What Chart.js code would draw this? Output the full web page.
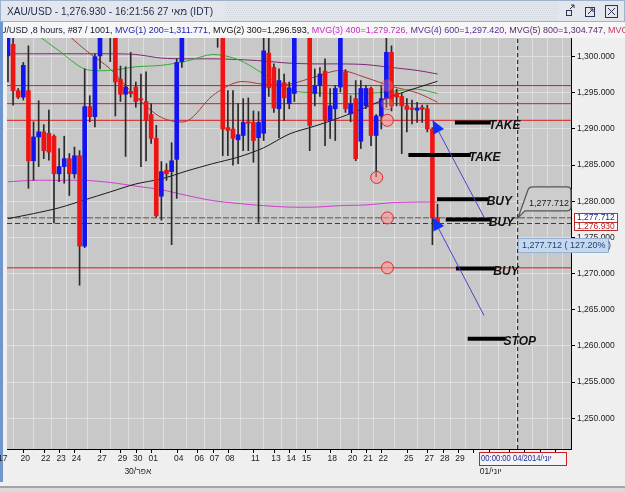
<!DOCTYPE html>
<html>
<head>
<meta charset="utf-8">
<script src="https://cdn.jsdelivr.net/npm/chart.js@4.4.0/dist/chart.umd.min.js"></script>
<style>
  html, body { margin: 0; padding: 0; background: #efefef; overflow: hidden; }
</style>
</head>
<body>
<canvas id="myChart" width="625" height="492"></canvas>
<script>
// XAU/USD 8 hour bars, index = bar number on screen
const barOpen = [1300.1,1301.7,1295.3,1294.4,1295.3,1285.6,1288.9,1289.6,1289.4,1289.0,
  1283.8,1284.8,1285.9,1283.8,1286.3,1273.8,1293.1,1291.7,1300.1,1303.5,
  1305.0,1304.0,1296.9,1294.8,1295.2,1295.8,1294.2,1293.8,1292.0,1288.7,
  1280.7,1284.3,1284.1,1285.8,1299.3,1303.5,1306.0,1308.5,1307.0,1309.0,
  1306.5,1305.5,1304.5,1290.2,1290.0,1288.5,1289.1,1291.0,1290.9,1288.8,
  1289.4,1300.5,1298.5,1292.8,1296.4,1293.5,1294.9,1303.5,1305.5,1304.0,
  1294.9,1296.0,1298.0,1291.2,1292.8,1295.8,1297.9,1292.1,1294.2,1288.3,
  1293.2,1295.6,1289.1,1291.8,1294.2,1300.6,1295.0,1294.5,1293.2,1292.9,
  1292.6,1293.0,1292.8,1290.0,1277.7];
const barClose = [1303.0,1295.3,1294.4,1298.8,1285.6,1288.9,1289.6,1287.0,1286.8,1283.8,
  1284.8,1285.9,1283.8,1286.3,1273.8,1293.1,1291.7,1300.0,1303.5,1305.0,
  1303.8,1296.5,1294.8,1295.8,1294.9,1293.8,1294.0,1291.2,1288.7,1278.0,
  1284.1,1283.8,1285.6,1299.2,1303.5,1306.0,1308.5,1307.0,1309.0,1306.5,
  1305.5,1304.5,1290.0,1289.8,1288.7,1289.2,1290.9,1290.8,1288.4,1290.9,
  1300.8,1295.7,1292.9,1296.7,1294.3,1295.7,1303.5,1305.5,1304.0,1290.5,
  1296.0,1297.6,1291.2,1293.2,1295.6,1303.0,1292.8,1293.5,1285.9,1295.6,
  1295.6,1289.1,1291.8,1294.2,1300.6,1293.2,1294.4,1293.2,1292.7,1292.7,
  1292.9,1292.7,1290.0,1277.7,1276.93];
const barHigh = [1304.0,1303.0,1295.6,1299.2,1301.5,1291.0,1293.9,1290.6,1292.6,1289.2,
  1287.3,1289.0,1286.6,1287.5,1287.0,1298.3,1294.6,1300.4,1305.0,1306.5,
  1306.0,1305.0,1298.7,1298.6,1300.6,1296.5,1297.6,1297.9,1293.5,1290.5,
  1285.5,1285.2,1288.1,1299.7,1305.0,1307.0,1309.5,1310.0,1310.5,1309.5,
  1308.0,1307.0,1305.5,1295.3,1295.3,1293.5,1294.2,1294.3,1292.5,1292.4,
  1303.0,1303.0,1299.0,1298.3,1297.6,1296.5,1305.0,1306.5,1307.0,1305.0,
  1298.3,1298.5,1299.7,1295.6,1296.0,1305.0,1298.2,1294.6,1296.7,1296.7,
  1296.0,1295.8,1292.0,1296.0,1304.0,1301.5,1295.5,1294.9,1294.2,1294.0,
  1293.7,1293.3,1293.3,1290.2,1279.6];
const barLow = [1296.5,1293.3,1294.2,1294.0,1281.8,1282.9,1284.8,1285.9,1285.7,1277.0,
  1282.7,1282.5,1280.8,1283.2,1268.4,1273.6,1291.0,1290.3,1298.3,1302.9,
  1299.3,1291.8,1293.8,1286.2,1294.4,1293.0,1284.8,1285.6,1288.0,1277.8,
  1277.4,1282.9,1274.0,1280.4,1298.5,1303.0,1305.0,1305.5,1306.0,1304.5,
  1303.5,1301.3,1286.3,1286.3,1285.0,1285.2,1287.0,1287.0,1285.4,1277.1,
  1288.4,1294.5,1292.3,1288.8,1291.2,1292.8,1293.8,1303.0,1303.0,1287.0,
  1293.2,1294.5,1287.7,1288.7,1288.4,1295.1,1292.3,1291.0,1285.6,1287.3,
  1292.8,1287.7,1283.4,1290.0,1293.0,1292.5,1293.2,1286.6,1289.6,1290.7,
  1290.9,1290.9,1289.6,1274.0,1276.5];

// moving averages, read every 5 bars
const maBars   = [0,5,10,15,20,25,30,35,40,45,50,55,60,65,70,75,80,84];
const maBlack  = [1277.6,1278.3,1279.1,1280.2,1281.3,1282.4,1283.1,1284.2,1285.2,1286.1,1287.4,1289.3,1290.4,1291.6,1293.0,1294.5,1295.7,1296.6];
const maGreen  = [1306.0,1303.4,1300.8,1298.3,1298.1,1298.6,1298.8,1299.4,1300.3,1299.6,1297.6,1295.4,1295.0,1294.9,1294.9,1295.2,1295.5,1294.9];
const maPurple = [1300.4,1300.4,1300.4,1300.4,1300.4,1300.3,1299.8,1299.7,1299.7,1299.6,1299.4,1299.1,1299.0,1299.0,1298.9,1298.5,1298.1,1297.6];
const maRed    = [1312.0,1308.0,1304.2,1301.0,1298.3,1294.5,1291.6,1291.1,1294.6,1296.5,1296.2,1296.2,1297.2,1298.1,1297.1,1295.9,1295.0,1293.7];
const maPink   = [1282.7,1282.9,1282.9,1282.9,1282.6,1282.1,1281.6,1280.8,1280.1,1279.7,1279.4,1279.2,1279.2,1279.4,1279.5,1279.8,1279.9,1279.9];

// price levels
const redLevels = [1296.0, 1293.5, 1291.2, 1270.8];
const lastMark = 1277.712;
const lastPrice = 1276.93;
const crossBar = 99.67;

// trade marks
const tradeText  = ['TAKE', 'TAKE', 'BUY', 'BUY', 'BUY', 'STOP'];
const tradeLevel = [1290.9, 1286.4, 1280.3, 1277.5, 1270.7, 1261.0];
const tradeFrom  = [87.4, 78.3, 83.9, 85.6, 87.6, 89.9];
const tradeTo    = [94.4, 90.5, 94.0, 94.4, 95.3, 97.3];

// blue arrows
const arrowFromBar = [93.1, 93.1];
const arrowFromY   = [1277.8, 1264.2];
const arrowToBar   = [83.05, 83.05];
const arrowToY     = [1291.2, 1277.8];

// circles (the first two are faint)
const circleBar = [74.2, 74.2, 74.2, 72.1, 74.2, 74.2];
const circleY   = [1296.0, 1293.5, 1291.2, 1283.3, 1277.7, 1270.8];
const circleFaint = [true, true, false, false, false, false];

// axis
const xTickPos  = [-1.4, 3, 7, 10, 13, 18, 22, 25, 28, 33, 37, 40, 43, 48, 52, 55, 58, 63, 67, 70, 73, 78, 82, 85, 88];
const xTickText = ['17','20','22','23','24','27','29','30','01','04','06','07','08','11','13','14','15','18','20','21','22','25','27','28','29'];
const futureTicks = [91, 94, 98, 101, 104, 107];
const monthPos  = [25, 94];
const monthText = ['30/אפר', '01/יוני'];
const yTicks = [1250, 1255, 1260, 1265, 1270, 1275, 1280, 1285, 1290, 1295, 1300];

const xMin = -0.19, xMax = 110.1;
const yMin = 1245.75, yMax = 1302.58;

const fmt = v => v.toLocaleString('en-US', { minimumFractionDigits: 3, maximumFractionDigits: 3 });

Chart.defaults.font.family = '"Liberation Sans", Arial, sans-serif';

const idx = barOpen.map((_, i) => i);
const datasets = [];

// arrows
for (let k = 0; k < arrowFromBar.length; k++) {
  datasets.push({
    type: 'line', order: 0, borderColor: '#4646d2', borderWidth: 1, pointRadius: 0,
    data: [{ x: arrowFromBar[k], y: arrowFromY[k] }, { x: arrowToBar[k], y: arrowToY[k] }]
  });
}
// trade segments
for (let k = 0; k < tradeText.length; k++) {
  datasets.push({
    type: 'line', order: 1, borderColor: '#000', borderWidth: 4, pointRadius: 0, borderCapStyle: 'butt',
    data: [{ x: tradeFrom[k], y: tradeLevel[k] }, { x: tradeTo[k], y: tradeLevel[k] }]
  });
}
// circles
datasets.push({
  type: 'line', order: 2, showLine: false, pointRadius: 6, pointBorderWidth: 1,
  pointBackgroundColor: circleFaint.map(f => f ? 'rgba(255,150,150,0.3)' : 'rgba(255,150,150,0.55)'),
  pointBorderColor: circleFaint.map(f => f ? 'rgba(224,40,40,0.5)' : '#e02828'),
  data: circleBar.map((b, i) => ({ x: b, y: circleY[i] }))
});
// candle bodies
datasets.push({
  type: 'bar', order: 3, grouped: false, barThickness: 4, minBarLength: 1, borderWidth: 0,
  backgroundColor: idx.map(i => barClose[i] >= barOpen[i] ? '#1414ee' : '#ee1414'),
  data: idx.map(i => ({ x: i, y: [barOpen[i], barClose[i]] }))
});
// wicks
datasets.push({
  type: 'bar', order: 4, grouped: false, barThickness: 1, borderWidth: 0,
  backgroundColor: '#2a2a2a',
  data: idx.map(i => ({ x: i, y: [barLow[i], barHigh[i]] }))
});
// moving averages
[[maBlack, '#1a1a1a'], [maGreen, '#2fae2f'], [maPurple, '#7c2a72'], [maRed, '#a83a3a'], [maPink, '#d03ed0']]
  .forEach(([vals, col]) => {
    datasets.push({
      type: 'line', order: 5, borderColor: col, borderWidth: 1, pointRadius: 0, tension: 0.3,
      data: maBars.map((b, i) => ({ x: b, y: vals[i] }))
    });
  });
// horizontal levels
redLevels.forEach(v => {
  datasets.push({
    type: 'line', order: 6, borderColor: '#e01818', borderWidth: 1, pointRadius: 0,
    data: [{ x: xMin, y: v }, { x: xMax, y: v }]
  });
});
datasets.push({
  type: 'line', order: 6, borderColor: '#6b4a40', borderWidth: 1, borderDash: [6, 2], pointRadius: 0,
  data: [{ x: xMin, y: lastMark }, { x: xMax, y: lastMark }]
});
datasets.push({
  type: 'line', order: 6, borderColor: '#2233a8', borderWidth: 1, borderDash: [5, 3], pointRadius: 0,
  data: [{ x: xMin, y: lastPrice }, { x: xMax, y: lastPrice }]
});
datasets.push({
  type: 'line', order: 6, borderColor: '#111', borderWidth: 1, borderDash: [4, 3], pointRadius: 0,
  data: [{ x: crossBar, y: yMin }, { x: crossBar, y: yMax }]
});

const extras = {
  id: 'extras',
  beforeDraw(chart) {
    const { ctx, chartArea: a } = chart;
    ctx.save();
    ctx.fillStyle = '#efefef';
    ctx.fillRect(0, 0, chart.width, chart.height);
    ctx.fillStyle = '#c8c8c8';
    ctx.fillRect(a.left, a.top, a.right - a.left, a.bottom - a.top);
    ctx.restore();
  },
  afterDatasetsDraw(chart) {
    const { ctx } = chart;
    const xs = chart.scales.x, ys = chart.scales.y;
    ctx.save();
    // arrow heads
    ctx.fillStyle = '#1030ff';
    for (let k = 0; k < arrowToBar.length; k++) {
      const x1 = xs.getPixelForValue(arrowFromBar[k]), y1 = ys.getPixelForValue(arrowFromY[k]);
      const x2 = xs.getPixelForValue(arrowToBar[k]), y2 = ys.getPixelForValue(arrowToY[k]);
      const ang = Math.atan2(y2 - y1, x2 - x1);
      const bx = x2 - 13 * Math.cos(ang), by = y2 - 13 * Math.sin(ang);
      const px = -Math.sin(ang) * 6, py = Math.cos(ang) * 6;
      ctx.beginPath();
      ctx.moveTo(x2, y2);
      ctx.lineTo(bx + px, by + py);
      ctx.lineTo(bx - px, by - py);
      ctx.closePath();
      ctx.fill();
    }
    // trade texts
    ctx.font = 'italic bold 12px "Liberation Sans", Arial, sans-serif';
    ctx.fillStyle = '#111';
    ctx.textBaseline = 'middle';
    ctx.textAlign = 'left';
    for (let k = 0; k < tradeText.length; k++) {
      ctx.fillText(tradeText[k], xs.getPixelForValue(tradeTo[k]) - 2, ys.getPixelForValue(tradeLevel[k]) + 3);
    }
    ctx.restore();
  },
  afterDraw(chart) {
    const { ctx, chartArea: a } = chart;
    const xs = chart.scales.x, ys = chart.scales.y;
    const W = chart.width;
    ctx.save();

    // title bar
    ctx.fillStyle = '#e3e7ed';
    ctx.fillRect(0, 0, W, 22);
    ctx.fillStyle = '#d3d8df';
    for (let yy = 2; yy < 21; yy += 2) {
      for (let xx = 225 + (yy % 4 ? 1 : 0); xx < 558; xx += 2) ctx.fillRect(xx, yy, 1, 1);
    }
    ctx.strokeStyle = '#9fb2cc';
    ctx.lineWidth = 1;
    ctx.strokeRect(0.5, 0.5, W - 1, 21);
    ctx.font = '10.5px "Liberation Sans", Arial, sans-serif';
    ctx.fillStyle = '#1e2a48';
    ctx.textBaseline = 'middle';
    ctx.textAlign = 'left';
    const title = 'XAU/USD - 1,276.930 - 16:21:56 27 מאי (IDT)';
    const tw = ctx.measureText(title).width;
    ctx.save();
    ctx.translate(7, 12);
    ctx.scale(206 / tw, 1);
    ctx.fillText(title, 0, 0);
    ctx.restore();
    // window buttons
    ctx.strokeStyle = '#2a3550';
    ctx.lineWidth = 1;
    ctx.strokeRect(566.5, 10.5, 5, 5);
    ctx.beginPath(); ctx.moveTo(570, 9); ctx.lineTo(574, 5); ctx.moveTo(571, 5); ctx.lineTo(574, 5); ctx.lineTo(574, 8); ctx.stroke();
    ctx.strokeRect(585.5, 7.5, 9, 9);
    ctx.beginPath(); ctx.moveTo(588, 14); ctx.lineTo(593, 9); ctx.moveTo(590, 9); ctx.lineTo(593, 9); ctx.lineTo(593, 12); ctx.stroke();
    ctx.strokeRect(605.5, 5.5, 12, 12);
    ctx.beginPath(); ctx.moveTo(608, 8); ctx.lineTo(615, 15); ctx.moveTo(615, 8); ctx.lineTo(608, 15); ctx.stroke();

    // info line
    ctx.fillStyle = '#f6f6f6';
    ctx.fillRect(0, 22, W, a.top - 22);
    const info = [
      ['U/USD ,8 hours, #87 / 1001, ', '#14182c'],
      ['MVG(1) 200=1,311.771, ', '#1c24b0'],
      ['MVG(2) 300=1,296.593, ', '#111111'],
      ['MVG(3) 400=1,279.726, ', '#c428c4'],
      ['MVG(4) 600=1,297.420, ', '#5a2c96'],
      ['MVG(5) 800=1,304.747, ', '#5c2a6e'],
      ['MVG', '#c83060']
    ];
    ctx.font = '9.5px "Liberation Sans", Arial, sans-serif';
    let full = 0;
    for (let k = 0; k < info.length - 1; k++) full += ctx.measureText(info[k][0]).width;
    const sx = 608 / full;
    ctx.save();
    ctx.translate(0, 30);
    ctx.scale(sx, 1);
    let cx = 0;
    info.forEach(([t, c]) => {
      ctx.fillStyle = c;
      ctx.fillText(t, cx, 0);
      cx += ctx.measureText(t).width;
    });
    ctx.restore();

    // left window edge
    ctx.fillStyle = '#7096d0';
    ctx.fillRect(0, 22, 3, 460);

    // x labels and tick marks
    ctx.strokeStyle = '#000';
    ctx.beginPath();
    xTickPos.concat(futureTicks).forEach(v => {
      const px = Math.round(xs.getPixelForValue(v)) + 0.5;
      if (px > a.left && px < a.right) { ctx.moveTo(px, a.bottom); ctx.lineTo(px, a.bottom + 4); }
    });
    ctx.stroke();
    ctx.font = '8.5px "Liberation Sans", Arial, sans-serif';
    ctx.fillStyle = '#222';
    ctx.textAlign = 'center';
    xTickPos.forEach((v, k) => ctx.fillText(xTickText[k], xs.getPixelForValue(v) + 2, a.bottom + 10));
    monthPos.forEach((v, k) => ctx.fillText(monthText[k], xs.getPixelForValue(v) + 2, a.bottom + 23));

    // crosshair date box
    const chx = Math.round(xs.getPixelForValue(crossBar));
    ctx.fillStyle = '#f4f4f6';
    ctx.fillRect(chx - 39, a.bottom + 3, 88, 13);
    ctx.strokeStyle = '#cc2020';
    ctx.strokeRect(chx - 38.5, a.bottom + 3.5, 87, 13);
    ctx.save();
    ctx.beginPath(); ctx.rect(chx - 38, a.bottom + 4, 86, 12); ctx.clip();
    ctx.fillStyle = '#1a2a9a';
    ctx.textAlign = 'left';
    ctx.font = '8.5px "Liberation Sans", Arial, sans-serif';
    ctx.save();
    ctx.translate(chx - 37, a.bottom + 10);
    ctx.scale(0.9, 1);
    ctx.fillText('00:00:00 04/יוני/2014', 0, 0);
    ctx.restore();
    ctx.restore();

    // price boxes on the axis
    const yLast = ys.getPixelForValue(lastPrice), yMark = ys.getPixelForValue(lastMark);
    ctx.font = '8.5px "Liberation Sans", Arial, sans-serif';
    ctx.textAlign = 'left';
    ctx.fillStyle = '#ffffff';
    ctx.fillRect(a.right + 3, Math.round(yLast) - 2, 44, 9);
    ctx.strokeStyle = '#b83030';
    ctx.strokeRect(a.right + 3.5, Math.round(yLast) - 1.5, 43, 8);
    ctx.fillStyle = '#c02020';
    ctx.fillText(fmt(lastPrice), a.right + 6, Math.round(yLast) + 3);
    ctx.fillStyle = '#ffffff';
    ctx.fillRect(a.right + 3, Math.round(yMark) - 5, 44, 10);
    ctx.strokeRect(a.right + 3.5, Math.round(yMark) - 4.5, 43, 9);
    ctx.fillStyle = '#1c2a90';
    ctx.fillText(fmt(lastMark), a.right + 6, Math.round(yMark));

    // callout at the crosshair
    const top = yMark - 31, bot = yMark - 7, right = chx + 53;
    ctx.beginPath();
    ctx.moveTo(chx, yMark);
    ctx.lineTo(chx + 10, top + 3);
    ctx.quadraticCurveTo(chx + 11, top, chx + 15, top);
    ctx.lineTo(right - 4, top);
    ctx.quadraticCurveTo(right, top, right, top + 4);
    ctx.lineTo(right, bot - 4);
    ctx.quadraticCurveTo(right, bot, right - 4, bot);
    ctx.lineTo(chx + 7, bot);
    ctx.closePath();
    ctx.fillStyle = '#cdcdcd';
    ctx.fill();
    ctx.strokeStyle = '#555';
    ctx.lineWidth = 1.3;
    ctx.stroke();
    ctx.fillStyle = '#222';
    ctx.font = '9px "Liberation Sans", Arial, sans-serif';
    ctx.fillText(fmt(lastMark), chx + 11, bot - 7);

    // value tooltip
    const tt = Math.round(yMark) + 20;
    ctx.fillStyle = '#c5d9ee';
    ctx.fillRect(chx, tt, 91, 15);
    ctx.strokeStyle = '#97b1d2';
    ctx.lineWidth = 1;
    ctx.strokeRect(chx + 0.5, tt + 0.5, 90, 14);
    ctx.fillStyle = '#22407a';
    ctx.fillText(fmt(lastMark) + ' ( 127.20% )', chx + 4, tt + 8);

    // bottom bar
    ctx.fillStyle = '#a4a4a4';
    ctx.fillRect(0, 486, W, 2);
    ctx.fillStyle = '#dadada';
    ctx.fillRect(0, 488, W, 4);
    ctx.restore();
  }
};

new Chart(document.getElementById('myChart'), {
  type: 'bar',
  data: { datasets: datasets },
  options: {
    responsive: false,
    animation: false,
    events: [],
    layout: { padding: { left: 3, top: 38, right: 0, bottom: 0 } },
    plugins: { legend: { display: false }, tooltip: { enabled: false } },
    scales: {
      x: {
        type: 'linear', min: xMin, max: xMax, offset: false,
        afterBuildTicks: s => { s.ticks = xTickPos.concat(futureTicks).filter(v => v > xMin && v < xMax).map(v => ({ value: v })); },
        afterFit: s => { s.height = 43; },
        ticks: { display: false },
        grid: { color: '#dddddd', drawTicks: false },
        border: { display: true, color: '#000' }
      },
      y: {
        position: 'right', min: yMin, max: yMax,
        afterBuildTicks: s => { s.ticks = yTicks.map(v => ({ value: v })); },
        afterFit: s => { s.width = 54; },
        ticks: { color: '#222', padding: 2, font: { size: 8.5 }, callback: v => fmt(v) },
        grid: { color: '#dddddd', tickColor: '#000', tickLength: 4 },
        border: { display: true, color: '#000' }
      }
    }
  },
  plugins: [extras]
});
</script>
</body>
</html>
